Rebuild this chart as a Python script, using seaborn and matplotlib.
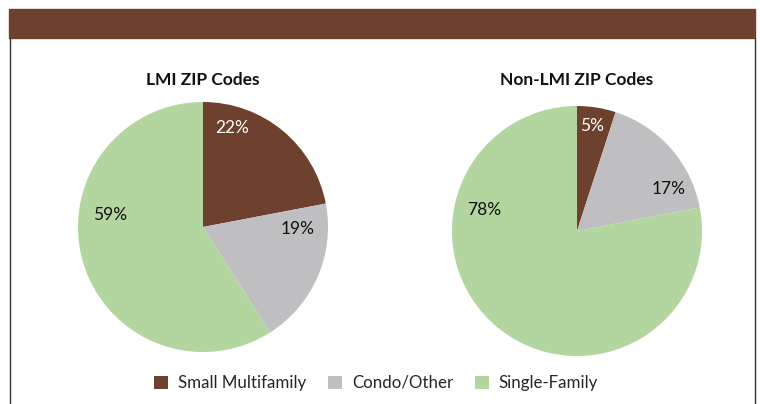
import matplotlib.pyplot as plt
from matplotlib.patches import Patch, Rectangle
from matplotlib.lines import Line2D
import seaborn as sns

sns.set_theme(style="white")
plt.rcParams["font.family"] = ["Lato", "DejaVu Sans"]

# Data
categories = ["Small Multifamily", "Condo/Other", "Single-Family"]
lmi_share = [22, 19, 59]
non_lmi_share = [5, 17, 78]
titles = ["LMI ZIP Codes", "Non-LMI ZIP Codes"]

palette = ["#6E412E", "#BFBFC1", "#B3D5A0"]
label_colors = ["white", "#111111", "#111111"]

# label placement inside each pie (pie radius = 1)
label_pos = [
    [(0.23, 0.79), (0.76, -0.02), (-0.74, 0.10)],
    [(0.12, 0.84), (0.73, 0.34), (-0.74, 0.17)],
]

fig = plt.figure(figsize=(7.6, 4.04), dpi=100)
W, H = 760, 404

# header band and frame
fig.patches.append(Rectangle((9 / W, 1 - 38 / H), 746 / W, 29 / H,
                             transform=fig.transFigure, color="#6E412E", zorder=0))
for x in (9.5 / W, 755 / W):
    fig.lines.append(Line2D([x, x], [0, 1 - 38 / H], transform=fig.transFigure,
                            color="#333333", lw=1))

centers = [(203, 227), (577, 231)]
radius = 125
for i, values in enumerate([lmi_share, non_lmi_share]):
    cx, cy = centers[i]
    ax = fig.add_axes([(cx - radius) / W, 1 - (cy + radius) / H,
                       2 * radius / W, 2 * radius / H])
    ax.pie(values, colors=palette, startangle=90, counterclock=False,
           wedgeprops=dict(linewidth=0))
    ax.set_xlim(-1, 1)
    ax.set_ylim(-1, 1)
    ax.set_aspect("equal")
    ax.axis("off")
    for v, (lx, ly), c in zip(values, label_pos[i], label_colors):
        ax.text(lx, ly, f"{v}%", ha="center", va="center", fontsize=12.5, color=c)
    fig.text(cx / W, 1 - 80 / H, titles[i], ha="center", va="center",
             fontsize=12.5, fontweight="bold", color="#111111")

handles = [Patch(facecolor=c, edgecolor="none") for c in palette]
fig.legend(handles, categories, ncol=3, loc="center", bbox_to_anchor=(0.495, 1 - 383 / H),
           frameon=False, fontsize=12.2, handlelength=0.8, handleheight=0.8,
           handletextpad=0.6, columnspacing=1.3)

fig.savefig("out.png", dpi=100)
